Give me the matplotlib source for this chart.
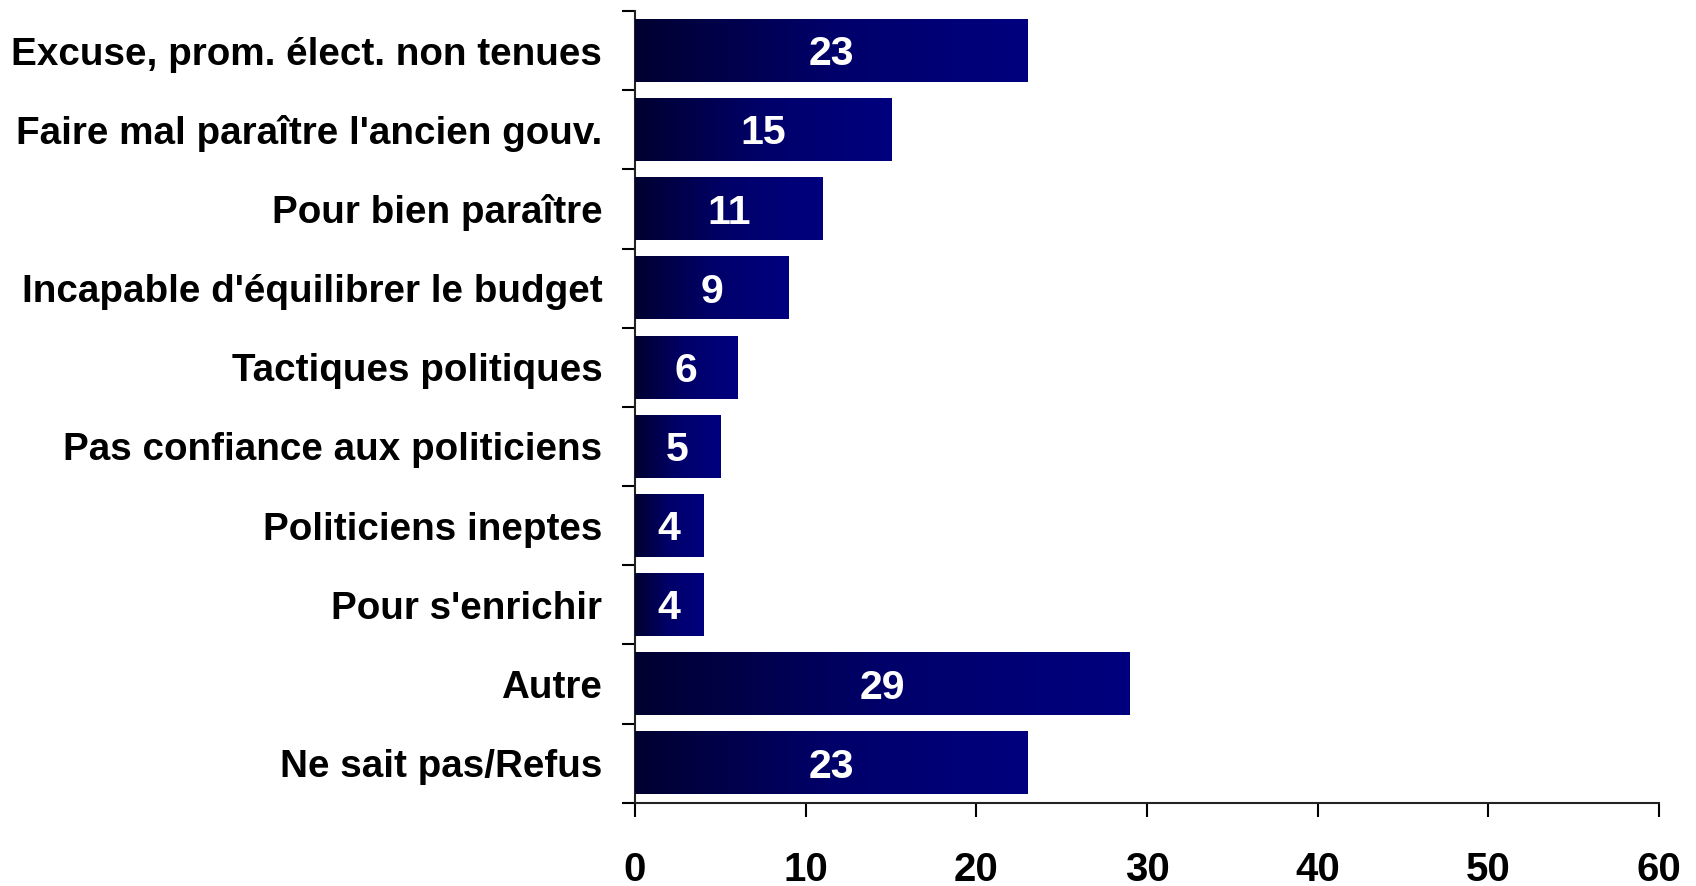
import numpy as np
import matplotlib
matplotlib.use("Agg")
import matplotlib.pyplot as plt
from matplotlib.colors import LinearSegmentedColormap
from matplotlib.ticker import FixedLocator

categories = [
    "Excuse, prom. élect. non tenues",
    "Faire mal paraître l'ancien gouv.",
    "Pour bien paraître",
    "Incapable d'équilibrer le budget",
    "Tactiques politiques",
    "Pas confiance aux politiciens",
    "Politiciens ineptes",
    "Pour s'enrichir",
    "Autre",
    "Ne sait pas/Refus",
]
values = [23, 15, 11, 9, 6, 5, 4, 4, 29, 23]
xticks = [0, 10, 20, 30, 40, 50, 60]

plt.rcParams['font.family'] = ['Liberation Sans', 'DejaVu Sans']

fig = plt.figure(figsize=(16.96, 8.86), dpi=100)
ax = fig.add_axes([0.3744, 0.0940, 0.9782 - 0.3744, 0.9876 - 0.0940])

cmap = LinearSegmentedColormap.from_list("navy", ["#000030", "#00006a", "#00007f"])
grad = np.linspace(0, 1, 256).reshape(1, -1)

n = len(categories)
ypos = np.arange(n)
h = 0.79
vfs = 29.5
bars = ax.barh(ypos, values, height=h, color="#000060", zorder=2)
for b, v in zip(bars, values):
    x0, y0 = b.get_x(), b.get_y()
    w, hh = b.get_width(), b.get_height()
    ax.imshow(grad, extent=[x0, x0 + w, y0 + hh, y0], aspect='auto',
              cmap=cmap, zorder=3, interpolation='bilinear')
    ax.annotate(str(v), xy=(x0 + w / 2, y0 + hh / 2), xytext=(0, -0.716 * vfs / 2),
                textcoords='offset points', color='white', fontsize=vfs,
                fontweight='bold', ha='center', va='baseline', zorder=4)

ax.set_xlim(0, 60)
ax.set_ylim(n - 0.5, -0.5)
ax.set_aspect('auto')

ax.xaxis.set_major_locator(FixedLocator(xticks))
ax.set_xticklabels([str(t) for t in xticks], fontsize=29, fontweight='bold')
ax.set_yticks(ypos)
ax.set_yticklabels(categories, fontsize=27.8, fontweight='bold')
ax.yaxis.set_minor_locator(FixedLocator(np.arange(n + 1) - 0.5))

ax.tick_params(axis='y', which='major', length=0, pad=23.5)
ax.tick_params(axis='y', which='minor', length=9.4, width=1.5, direction='out')
ax.tick_params(axis='x', which='major', length=10, width=1.5, direction='out', pad=25)

for s in ['top', 'right']:
    ax.spines[s].set_visible(False)
for s in ['left', 'bottom']:
    ax.spines[s].set_linewidth(1.5)
    ax.spines[s].set_color('#222222')

fig.savefig("out.png", dpi=100, facecolor='white')
